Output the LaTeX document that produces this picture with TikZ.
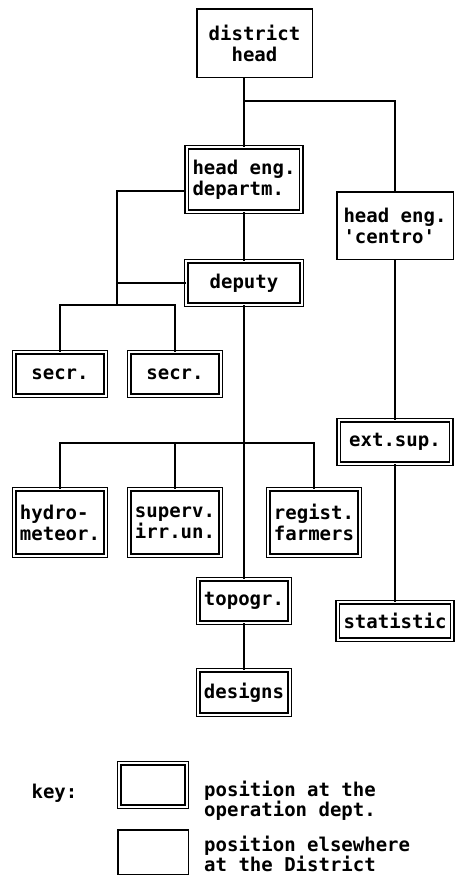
\documentclass[tikz,border=0pt]{standalone}
\usepackage{fontspec}
\setmonofont{DejaVu Sans Mono}
\begin{document}
\begin{tikzpicture}[x=1pt,y=-1pt,
    unit/.style={draw, line width=1.5pt, align=left, inner sep=0pt,
      font=\ttfamily\bfseries\fontsize{19}{21}\selectfont},
    opunit/.style={unit, line width=1.3pt, double, double distance=2pt},
    keytext/.style={inner sep=0pt, align=left,
      font=\ttfamily\bfseries\fontsize{19}{17.5}\selectfont},
    link/.style={line width=1.5pt}]
  \useasboundingbox (0,0) rectangle (457,884);

  \node[unit, align=center, minimum width=115.5, minimum height=68.5] (head) at (254.5,43) {district\\head};
  \node[opunit, minimum width=114.5, minimum height=64.5] (departm) at (244,179.5) {head eng.\\departm.};
  \node[unit, minimum width=116.5, minimum height=67.5] (centro) at (395,225.5) {head eng.\\'centro'};
  \node[opunit, minimum width=115.5, minimum height=43.5] (deputy) at (244,283) {deputy};
  \node[opunit, minimum width=91.5, minimum height=43.5] (secrA) at (60,374) {secr.};
  \node[opunit, minimum width=91.5, minimum height=43.5] (secrB) at (175,374) {secr.};
  \node[opunit, minimum width=112.5, minimum height=43.5] (extsup) at (395,442) {ext.sup.};
  \node[opunit, minimum width=91.5, minimum height=66.5] (hydro) at (60,522.5) {hydro-\\meteor.};
  \node[opunit, minimum width=91.5, minimum height=66.5] (superv) at (175,522.5) {superv.\\irr.un.};
  \node[opunit, minimum width=91.5, minimum height=66.5] (regist) at (314,522.5) {regist.\\farmers};
  \node[opunit, minimum width=91.5, minimum height=43.5] (topogr) at (244,601) {topogr.};
  \node[opunit, minimum width=91.5, minimum height=44.5] (designs) at (244,692.5) {designs};
  \node[opunit, minimum width=114.5, minimum height=37.5] (statistic) at (395,621) {statistic};

  \coordinate (split) at (244,101);
  \coordinate (secrsplit) at (117,305);
  \coordinate (unitsplit) at (244,443);

  \draw[link] (head.south -| split) -- (departm.north);
  \draw[link] (split) -| (centro.north);
  \draw[link] (departm.south) -- (deputy.north);
  \draw[link] ([yshift=-11.5pt]departm.west) -| (secrsplit);
  \draw[link] (deputy.west) -- (deputy.west -| secrsplit);
  \draw[link] (secrA.north) |- (secrsplit) -| (secrB.north);
  \draw[link] (deputy.south) -- (topogr.north);
  \draw[link] (hydro.north) |- (unitsplit) -| (regist.north);
  \draw[link] (superv.north) -- (superv.north |- unitsplit);
  \draw[link] (topogr.south) -- (designs.north);
  \draw[link] (centro.south) -- (extsup.north);
  \draw[link] (extsup.south) -- (statistic.north);

  % key
  \node[keytext] (keylabel) at (54.5,793) {key:};
  \node[opunit, minimum width=67.5, minimum height=43.5] (keyop) at (153,785) {};
  \node[unit, minimum width=70.5, minimum height=44.5] (keyelse) at (153,852) {};
  \node[keytext, anchor=west] (keyoptext) at (204,801) {position at the\\operation dept.};
  \node[keytext, anchor=west] (keyelsetext) at (204,854) {position elsewhere\\at the District};
\end{tikzpicture}
\end{document}
